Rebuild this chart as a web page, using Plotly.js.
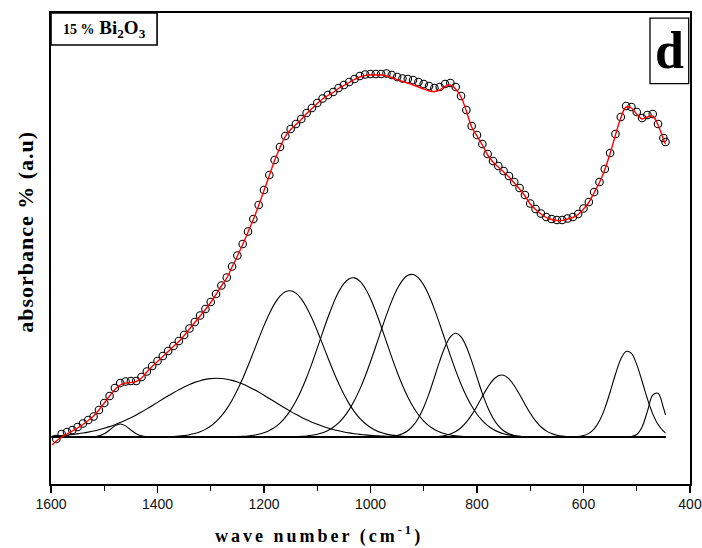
<!DOCTYPE html>
<html>
<head>
<meta charset="utf-8">
<script src="https://cdn.plot.ly/plotly-3.0.1.min.js"></script>
<style>html,body{margin:0;padding:0;background:#fff;}#chart{width:702px;height:548px;}</style>
</head>
<body>
<div id="chart"></div>
<script>
// Experimental data (open circles): wave number (cm^-1) and absorbance (a.u.)
var dataWn = [1590,1580,1570,1560,1550,1540,1530,1520,1510,1500,1490,1480,1470,1460,1450,1440,1430,1420,1410,1400,
  1390,1380,1370,1360,1350,1340,1330,1320,1310,1300,1290,1280,1270,1260,1250,1240,1230,1220,1210,1200,
  1190,1180,1170,1160,1150,1140,1130,1120,1110,1100,1090,1080,1070,1060,1050,1040,1030,1020,1010,1000,
  990,980,970,960,950,940,930,920,910,900,890,880,870,860,850,840,830,820,810,800,
  790,780,770,760,750,740,730,720,710,700,690,680,670,660,650,640,630,620,610,600,
  590,580,570,560,550,540,530,520,510,500,490,480,470,460,450,446];
var dataAbs = [-0.02,0.03,0.05,0.07,0.10,0.135,0.17,0.205,0.27,0.34,0.41,0.49,0.54,0.555,0.56,0.56,0.60,0.655,0.71,0.76,
  0.81,0.86,0.91,0.96,1.02,1.085,1.15,1.215,1.28,1.35,1.43,1.515,1.595,1.705,1.815,1.93,2.055,2.18,2.32,2.47,
  2.62,2.77,2.90,3.01,3.08,3.13,3.18,3.24,3.29,3.34,3.385,3.42,3.45,3.49,3.52,3.55,3.58,3.61,3.625,3.63,
  3.63,3.63,3.635,3.62,3.60,3.585,3.58,3.57,3.55,3.53,3.51,3.49,3.50,3.53,3.54,3.50,3.41,3.27,3.11,3.02,
  2.93,2.83,2.76,2.71,2.66,2.61,2.55,2.49,2.42,2.335,2.28,2.235,2.20,2.18,2.17,2.17,2.185,2.20,2.23,2.285,
  2.35,2.45,2.55,2.68,2.84,3.03,3.20,3.31,3.30,3.25,3.19,3.22,3.23,3.13,2.99,2.95];

// Fitted envelope (red line)
var fitWn = [1598,1590,1580,1570,1560,1550,1540,1530,1520,1510,1500,1490,1480,1470,1460,1450,1440,1430,1420,1410,1400,
  1390,1380,1370,1360,1350,1340,1330,1320,1310,1300,1290,1280,1270,1260,1250,1240,1230,1220,1210,1200,
  1190,1180,1170,1160,1150,1140,1130,1120,1110,1100,1090,1080,1070,1060,1050,1040,1030,1020,1010,1000,
  990,980,970,960,950,940,930,920,910,900,890,880,870,860,850,840,830,820,810,800,
  790,780,770,760,750,740,730,720,710,700,690,680,670,660,650,640,630,620,610,600,
  590,580,570,560,550,540,530,520,510,500,490,480,470,460,450,446];
var fitAbs = [-0.08,-0.04,0.0,0.03,0.06,0.09,0.125,0.165,0.21,0.27,0.34,0.41,0.475,0.52,0.54,0.545,0.555,0.59,0.65,0.705,0.755,
  0.805,0.855,0.905,0.955,1.015,1.08,1.145,1.21,1.275,1.345,1.425,1.51,1.59,1.70,1.81,1.925,2.05,2.175,2.315,2.465,
  2.615,2.765,2.895,3.005,3.075,3.125,3.175,3.235,3.285,3.335,3.38,3.415,3.445,3.485,3.515,3.545,3.575,3.60,3.615,3.62,
  3.62,3.62,3.61,3.595,3.575,3.555,3.54,3.52,3.50,3.48,3.46,3.455,3.47,3.505,3.52,3.48,3.40,3.26,3.10,3.01,
  2.92,2.82,2.75,2.70,2.65,2.60,2.54,2.48,2.41,2.33,2.275,2.23,2.195,2.175,2.165,2.165,2.18,2.195,2.225,2.28,
  2.345,2.445,2.545,2.675,2.835,3.02,3.19,3.30,3.29,3.23,3.18,3.20,3.21,3.12,2.98,2.93];

// Deconvoluted Gaussian components
var peakCentre = [1470, 1289, 1152, 1033, 923, 840, 754, 517, 464];
var peakHeight = [0.13, 0.587, 1.463, 1.593, 1.627, 1.037, 0.62, 0.86, 0.453];
var peakSigma  = [18, 108, 65, 62, 62, 38, 39, 29, 15];

// Baseline
var baseWn = [1600, 446];
var baseAbs = [0, 0];

var xTickVals = [1600, 1400, 1200, 1000, 800, 600, 400];
var xTickText = ['1600', '1400', '1200', '1000', '800', '600', '400'];

var traces = [];
traces.push({x: baseWn, y: baseAbs, mode: 'lines', line: {color: '#000', width: 1.3}, hoverinfo: 'skip'});
for (var k = 0; k < peakCentre.length; k++) {
  var ys = fitWn.map(function (w) {
    var d = (w - peakCentre[k]) / peakSigma[k];
    return peakHeight[k] * Math.exp(-0.5 * d * d);
  });
  traces.push({x: fitWn, y: ys, mode: 'lines', line: {color: '#000', width: 1.1, shape: 'spline'}, hoverinfo: 'skip'});
}
traces.push({x: dataWn, y: dataAbs, mode: 'markers',
  marker: {symbol: 'circle-open', size: 7.5, color: '#000', line: {width: 1.1, color: '#000'}}});
traces.push({x: fitWn, y: fitAbs, mode: 'lines', line: {color: '#ff0000', width: 1.4, shape: 'spline'}});

var serif = 'Liberation Serif, Times New Roman, serif';
var layout = {
  width: 702, height: 548,
  margin: {l: 51, r: 12, t: 13, b: 64},
  paper_bgcolor: '#fff', plot_bgcolor: '#fff',
  showlegend: false,
  xaxis: {
    range: [1600, 400], tickvals: xTickVals, ticktext: xTickText,
    ticks: 'outside', ticklen: 7, tickwidth: 1.2, tickcolor: '#000',
    minor: {dtick: 100, ticks: 'outside', ticklen: 5, tickwidth: 1.2, tickcolor: '#000', showgrid: false},
    showline: true, mirror: true, linecolor: '#000', linewidth: 1.6,
    showgrid: false, zeroline: false,
    tickfont: {family: 'Liberation Sans, Arial, sans-serif', size: 14, color: '#111'}
  },
  yaxis: {
    range: [-0.47, 4.24], showticklabels: false, ticks: '',
    showline: true, mirror: true, linecolor: '#000', linewidth: 1.6,
    showgrid: false, zeroline: false
  },
  annotations: [
    {xref: 'paper', yref: 'paper', x: -0.041, y: 0.535, xanchor: 'center', yanchor: 'middle',
     text: '<b><span style="letter-spacing:1px">absorbance % (a.u)</span></b>', textangle: -90, showarrow: false,
     font: {family: serif, size: 22, color: '#000'}},
    {xref: 'paper', yref: 'paper', x: 0.42, y: -0.108, xanchor: 'center', yanchor: 'middle',
     text: '<b><span style="letter-spacing:3px">wave number (cm<sup>-1</sup>)</span></b>', showarrow: false,
     font: {family: serif, size: 18, color: '#000'}},
    {xref: 'paper', yref: 'paper', x: 0.083, y: 0.966, xanchor: 'center', yanchor: 'middle',
     text: '<b><span style="font-size:14px">15 %</span> Bi<sub>2</sub>O<sub>3</sub></b>', showarrow: false,
     font: {family: serif, size: 19, color: '#000'}},
    {xref: 'paper', yref: 'paper', x: 0.968, y: 0.92, xanchor: 'center', yanchor: 'middle',
     text: '<b>d</b>', showarrow: false,
     font: {family: serif, size: 52, color: '#000'}}
  ],
  shapes: [
    {type: 'rect', xref: 'paper', yref: 'paper', x0: 0, x1: 0.166, y0: 0.932, y1: 1,
     line: {color: '#000', width: 1.6}},
    {type: 'rect', xref: 'paper', yref: 'paper', x0: 0.9374, x1: 0.998, y0: 0.850, y1: 0.989,
     line: {color: '#000', width: 1.3}}
  ]
};
Plotly.newPlot('chart', traces, layout, {displayModeBar: false, staticPlot: true});
</script>
</body>
</html>
